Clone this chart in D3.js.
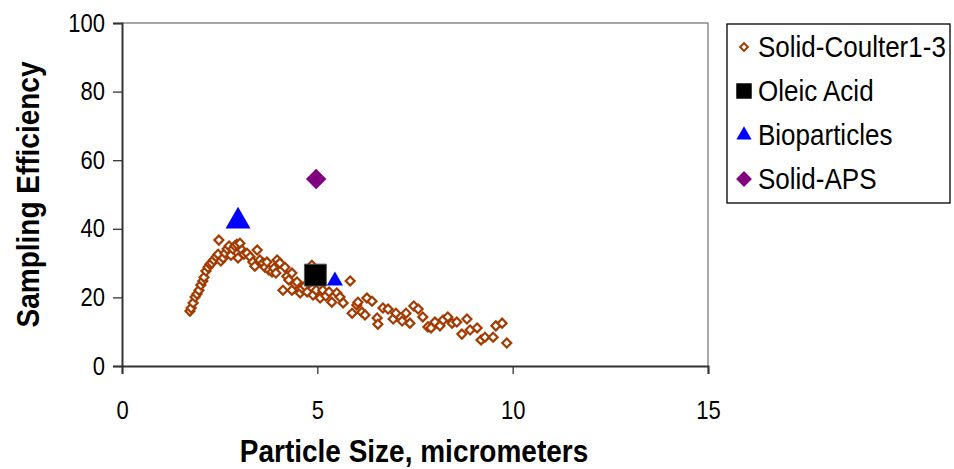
<!DOCTYPE html>
<html>
<head>
<meta charset="utf-8">
<style>
  body { margin: 0; background: #fff; }
  svg { display: block; font-family: "Liberation Sans", Arial, sans-serif; }
  .tick text { font-size: 22px; fill: #000; }
</style>
</head>
<body>
<script src="https://d3js.org/d3.v7.min.js"></script>
<script>
const W = 954, H = 469;

// Solid-Coulter1-3 points
const coulterX = [1.74,1.77,1.82,1.87,1.92,1.97,2.02,2.07,2.10,2.15,2.20,2.25,2.30,2.35,2.41,2.46,2.48,2.53,2.59,2.64,
  2.69,2.74,2.79,2.84,2.89,2.94,2.97,3.02,3.07,3.12,3.20,3.28,3.35,3.40,3.46,3.53,3.61,3.66,3.71,3.76,
  3.84,3.89,3.94,3.97,4.04,4.12,4.17,4.22,4.27,4.35,4.35,4.43,4.48,4.56,4.61,4.68,4.74,4.79,4.86,4.89,
  4.97,5.07,5.14,5.22,5.30,5.37,5.50,5.58,5.66,5.84,5.89,6.01,6.04,6.14,6.27,6.40,6.22,6.53,6.55,6.68,
  6.81,6.94,7.01,7.17,7.27,7.37,7.47,7.58,7.70,7.83,7.91,8.01,8.14,8.22,8.34,8.45,8.57,8.83,8.70,8.91,
  9.09,9.19,9.29,9.50,9.57,9.73,9.85];
const coulterY = [16.0,16.9,18.4,20.1,21.0,22.1,23.6,24.8,25.9,27.7,28.8,29.7,30.0,30.9,31.8,32.6,36.7,30.6,31.5,32.9,
  34.1,35.0,32.3,34.1,35.0,35.5,31.5,35.8,33.8,32.6,32.9,31.8,30.3,29.1,33.8,30.9,30.0,28.8,30.3,28.0,
  27.4,28.5,27.1,30.9,30.0,22.1,28.8,26.2,25.1,27.1,22.1,23.9,24.5,21.3,22.7,23.3,21.6,24.2,29.4,20.7,
  22.1,19.8,22.1,20.4,21.6,18.6,21.3,20.1,18.4,24.8,15.4,17.8,18.6,15.7,19.8,18.9,14.9,14.0,12.2,16.9,
  16.6,13.7,15.4,13.1,15.4,12.5,17.5,16.6,14.3,11.4,11.1,12.8,11.7,13.4,14.3,12.5,12.8,13.7,9.3,10.5,
  11.1,7.6,8.4,8.4,11.7,12.5,6.7];

const oleicX = [4.95], oleicY = [26.5];
const bioX = [2.97, 5.45], bioY = [42.2, 24.8], bioSize = [1, 0.65];
const apsX = [4.97], apsY = [54.5];

const xTicks = [0, 5, 10, 15];
const yTicks = [0, 20, 40, 60, 80, 100];
const legendLabels = ["Solid-Coulter1-3", "Oleic Acid", "Bioparticles", "Solid-APS"];
const colors = { coulter: "#A33B00", oleic: "#000000", bio: "#0000FF", aps: "#800080" };

const m = { left: 122, right: 708, top: 23, bottom: 366 };
const stretch = 1.15; // text in the picture is a little taller than wide

const svg = d3.select("body").append("svg")
  .attr("width", W).attr("height", H);

const x = d3.scaleLinear().domain([0, 15]).range([m.left, m.right]);
const y = d3.scaleLinear().domain([0, 100]).range([m.bottom, m.top]);

// plot frame (gray top/right)
svg.append("path")
  .attr("d", `M${m.left},${m.top}H${m.right}V${m.bottom}`)
  .attr("fill", "none").attr("stroke", "#8c8c8c").attr("stroke-width", 1.5);

const xAxis = svg.append("g")
  .attr("transform", `translate(0,${m.bottom})`)
  .call(d3.axisBottom(x).tickValues(xTicks).tickSize(8));
const yAxis = svg.append("g")
  .attr("transform", `translate(${m.left},0)`)
  .call(d3.axisLeft(y).tickValues(yTicks).tickSize(9).tickPadding(8));
[xAxis, yAxis].forEach(g => {
  g.select(".domain").attr("stroke", "#333").attr("stroke-width", 2);
  g.selectAll(".tick line").attr("stroke", "#333").attr("stroke-width", 1.3);
  g.selectAll(".tick text").attr("transform", `scale(1,${stretch})`);
});
xAxis.selectAll(".tick text").attr("dy", 0).attr("y", 53 / stretch);

// axis titles
svg.append("text")
  .attr("transform", `translate(414,462) scale(1,1.1)`)
  .attr("text-anchor", "middle")
  .style("font-size", "28px").style("font-weight", "bold")
  .text("Particle Size, micrometers");
svg.append("text")
  .attr("transform", `translate(39,${(m.top + m.bottom) / 2}) rotate(-90) scale(1,1.1)`)
  .attr("text-anchor", "middle")
  .style("font-size", "28px").style("font-weight", "bold")
  .text("Sampling Efficiency");

const diamond = d3.symbol().type(d3.symbolSquare);
const tri = d3.symbol().type(d3.symbolTriangle);

// Solid-Coulter1-3 (open diamonds)
svg.append("g").selectAll("path")
  .data(coulterX.map((v, i) => [v, coulterY[i]]))
  .join("path")
  .attr("d", diamond.size(40)())
  .attr("transform", d => `translate(${x(d[0])},${y(d[1])}) rotate(45)`)
  .attr("fill", "#fff").attr("stroke", colors.coulter).attr("stroke-width", 2.2);

// Oleic Acid
svg.append("g").selectAll("path")
  .data(oleicX.map((v, i) => [v, oleicY[i]]))
  .join("path")
  .attr("d", d3.symbol().type(d3.symbolSquare).size(480)())
  .attr("transform", d => `translate(${x(d[0])},${y(d[1])})`)
  .attr("fill", colors.oleic).attr("stroke", "#555").attr("stroke-width", 1);

// Bioparticles
svg.append("g").selectAll("path")
  .data(bioX.map((v, i) => [v, bioY[i], bioSize[i]]))
  .join("path")
  .attr("d", d => tri.size(270 * d[2] * d[2])())
  .attr("transform", d => `translate(${x(d[0])},${y(d[1])})`)
  .attr("fill", colors.bio);

// Solid-APS
svg.append("g").selectAll("path")
  .data(apsX.map((v, i) => [v, apsY[i]]))
  .join("path")
  .attr("d", diamond.size(210)())
  .attr("transform", d => `translate(${x(d[0])},${y(d[1])}) rotate(45)`)
  .attr("fill", colors.aps);

// legend
const lg = svg.append("g");
lg.append("rect")
  .attr("x", 727).attr("y", 24).attr("width", 223).attr("height", 179)
  .attr("fill", "#fff").attr("stroke", "#000").attr("stroke-width", 1.3);
const ly = d3.scalePoint().domain(legendLabels).range([47, 179]);
const legendMarks = [
  s => s.attr("d", diamond.size(30)()).attr("transform", "rotate(45)").attr("fill", "#fff").attr("stroke", colors.coulter).attr("stroke-width", 2),
  s => s.attr("d", d3.symbol().type(d3.symbolSquare).size(240)()).attr("fill", colors.oleic),
  s => s.attr("d", tri.size(100)()).attr("fill", colors.bio),
  s => s.attr("d", diamond.size(125)()).attr("transform", "rotate(45)").attr("fill", colors.aps)
];
legendLabels.forEach((lab, i) => {
  const g = lg.append("g").attr("transform", `translate(744,${ly(lab)})`);
  legendMarks[i](g.append("path"));
  g.append("text").attr("transform", `translate(14,0) scale(1,1.1)`).attr("dy", "0.36em")
    .style("font-size", "26px").text(lab);
});
</script>
</body>
</html>
